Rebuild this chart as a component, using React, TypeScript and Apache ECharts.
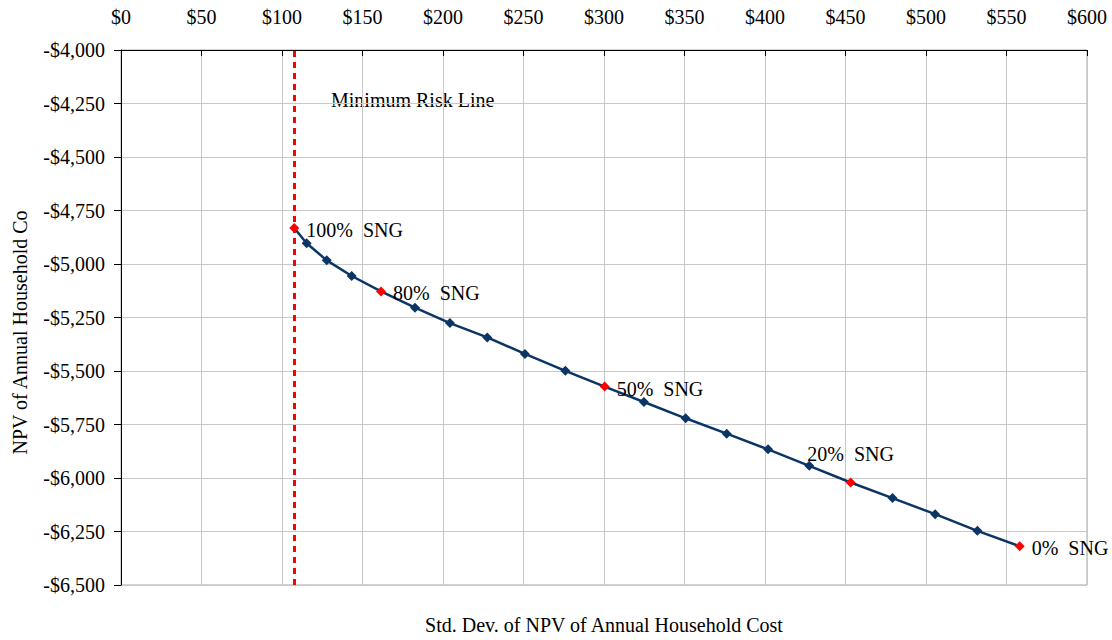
import React, { useEffect, useRef } from "react";
import * as echarts from "echarts";

// Std. dev. of NPV of annual household cost ($) for each portfolio mix
const stdDev = [
  107.6, 115.3, 127.8, 143.3, 161.5, 182.6, 204.3, 227.5, 250.9, 276.0, 300.4,
  324.8, 350.7, 376.2, 401.9, 427.5, 453.2, 479.2, 505.7, 531.9, 558.2,
];
// NPV of annual household cost ($)
const npv = [
  -4832, -4903, -4983, -5056, -5128, -5204, -5276, -5343, -5420, -5499, -5573,
  -5645, -5721, -5793, -5866, -5943, -6021, -6094, -6169, -6247, -6319,
];
// SNG share of each portfolio (%)
const sngShare = [
  100, 95, 90, 85, 80, 75, 70, 65, 60, 55, 50, 45, 40, 35, 30, 25, 20, 15, 10,
  5, 0,
];
// Portfolios that are highlighted and labelled
const labelledShares = [100, 80, 50, 20, 0];
// Minimum-risk std. dev. ($)
const minimumRisk = 107.6;

const xTicks = { min: 0, max: 600, interval: 50 };
const yTicks = { min: -6500, max: -4000, interval: 250 };

const FONT = "'Liberation Serif', 'Times New Roman', serif";
const FS = 20;
const NAVY = "#0b3564";
const RED = "#ff0000";

export default function App() {
  const ref = useRef<HTMLDivElement>(null);

  useEffect(() => {
    if (!ref.current) return;
    const chart = echarts.init(ref.current, undefined, { renderer: "svg" });

    const lineData = stdDev.map((x, i) => {
      const share = sngShare[i];
      const item: any = { value: [x, npv[i]] };
      if (labelledShares.includes(share)) {
        const above = share === 20;
        item.itemStyle = { color: RED };
        item.label = {
          show: true,
          formatter: `${share}%  SNG`,
          position: above ? "top" : "right",
          distance: above ? 13 : 7,
          offset: above ? [0, 0] : [0, 2],
          color: "#000",
          fontFamily: FONT,
          fontSize: FS,
        };
      }
      return item;
    });

    const textStyle = { color: "#000", fontFamily: FONT, fontSize: FS };

    chart.setOption({
      animation: false,
      backgroundColor: "#fff",
      grid: {
        left: 121,
        right: 25,
        top: 50,
        bottom: 50,
        show: true,
        borderColor: "#a6a6a6",
        borderWidth: 1,
      },
      xAxis: [
        {
          type: "value",
          position: "top",
          ...xTicks,
          axisLine: { show: true, lineStyle: { color: "#000", width: 1 } },
          axisTick: { show: true, inside: true, length: 6, lineStyle: { color: "#000" } },
          axisLabel: {
            ...textStyle,
            margin: 23,
            formatter: (v: number) => "$" + v,
          },
          splitLine: { show: true, lineStyle: { color: "#c8c8c8", width: 1 } },
        },
        {
          type: "value",
          position: "bottom",
          ...xTicks,
          name: "Std. Dev. of NPV of Annual Household Cost",
          nameLocation: "middle",
          nameGap: 30,
          nameTextStyle: textStyle,
          axisLine: { show: false },
          axisTick: { show: false },
          axisLabel: { show: false },
          splitLine: { show: false },
        },
      ],
      yAxis: {
        type: "value",
        ...yTicks,
        name: "NPV of Annual Household Co",
        nameLocation: "middle",
        nameRotate: 90,
        nameGap: 91,
        nameTextStyle: { ...textStyle, padding: [0, 30, 0, 0] },
        axisLine: { show: true, lineStyle: { color: "#000", width: 1 } },
        axisTick: { show: true, length: 7, lineStyle: { color: "#000" } },
        axisLabel: {
          ...textStyle,
          margin: 16,
          formatter: (v: number) =>
            (v < 0 ? "-$" : "$") + Math.abs(v).toLocaleString("en-US"),
        },
        splitLine: { show: true, lineStyle: { color: "#c8c8c8", width: 1 } },
      },
      graphic: [
        {
          type: "text",
          x: 331,
          y: 100,
          style: {
            text: "Minimum Risk Line",
            fill: "#000",
            font: `${FS}px ${FONT}`,
            textVerticalAlign: "middle",
          },
        },
      ],
      series: [
        {
          type: "line",
          data: lineData,
          symbol: "diamond",
          symbolSize: 10,
          lineStyle: { color: NAVY, width: 2.5 },
          itemStyle: { color: NAVY },
          z: 3,
          markLine: {
            silent: true,
            symbol: "none",
            label: { show: false },
            lineStyle: { color: RED, width: 3, type: [6, 5] },
            data: [{ xAxis: minimumRisk }],
            z: 2,
          },
        },
      ],
    });

    return () => chart.dispose();
  }, []);

  return (
    <div
      ref={ref}
      style={{ position: "fixed", left: 0, top: 0, width: 1112, height: 640 }}
    />
  );
}
